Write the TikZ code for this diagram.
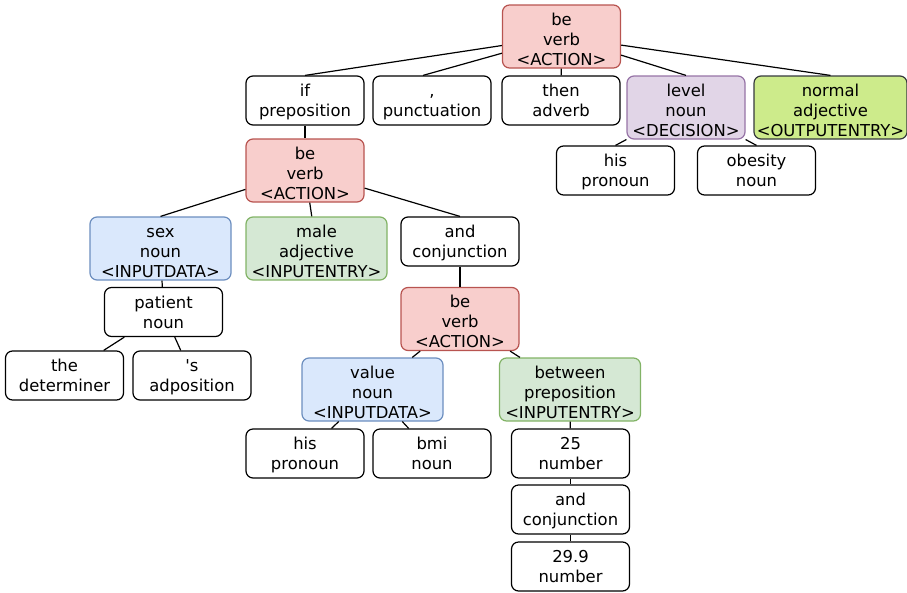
\documentclass[tikz,border=0pt]{standalone}
\usepackage{fontspec}
\setmainfont{DejaVu Sans}
\usepackage{tikz}
\usetikzlibrary{positioning}

\definecolor{actionfill}{HTML}{F8CECC}
\definecolor{actionline}{HTML}{B85450}
\definecolor{datafill}{HTML}{DAE8FC}
\definecolor{dataline}{HTML}{6C8EBF}
\definecolor{entryfill}{HTML}{D5E8D4}
\definecolor{entryline}{HTML}{82B366}
\definecolor{decfill}{HTML}{E1D5E7}
\definecolor{decline}{HTML}{9673A6}
\definecolor{outfill}{HTML}{CDEB8B}
\definecolor{outline}{HTML}{36393D}

% two and three line labels, with struts so all boxes sit alike
\newcommand{\wordtext}[2]{\rule{0pt}{16.5pt}#1\\#2\rule[-4pt]{0pt}{4pt}}
\newcommand{\tagtext}[3]{\rule{0pt}{19pt}#1\\#2\\#3\rule[-2pt]{0pt}{2pt}}

\tikzset{
  word/.style={draw=black, fill=white, rounded corners=7pt, line width=1.2pt,
    minimum width=118pt, minimum height=49pt, inner sep=0pt, align=center,
    font=\fontsize{16.4}{20}\selectfont},
  tagged/.style={word, minimum height=63pt},
  action/.style={tagged, fill=actionfill, draw=actionline},
  inputdata/.style={tagged, fill=datafill, draw=dataline, minimum width=141pt},
  inputentry/.style={tagged, fill=entryfill, draw=entryline, minimum width=141pt},
  decision/.style={tagged, fill=decfill, draw=decline},
  outputentry/.style={tagged, fill=outfill, draw=outline, minimum width=153pt},
  branch/.style={draw=black, line width=1.2pt}
}

\begin{document}
\begin{tikzpicture}[x=1pt,y=-1pt]
\useasboundingbox (0,0) rectangle (907,592);

% top level
\node[action] (root) at (561.5,36.5) {\tagtext{be}{verb}{<ACTION>}};
\node[word] (if) at (305,100.5) {\wordtext{if}{preposition}};
\node[word] (punct) at (432,100.5) {\wordtext{,}{punctuation}};
\node[word] (then) at (561,100.5) {\wordtext{then}{adverb}};
\node[decision] (level) at (686,107.5) {\tagtext{level}{noun}{<DECISION>}};
\node[outputentry] (normal) at (830.5,107.5) {\tagtext{normal}{adjective}{<OUTPUTENTRY>}};
\node[word] (hisA) at (615.5,170.5) {\wordtext{his}{pronoun}};
\node[word] (obesity) at (756.5,170.5) {\wordtext{obesity}{noun}};

% condition
\node[action] (beA) at (305,170.5) {\tagtext{be}{verb}{<ACTION>}};
\node[inputdata] (sex) at (160.5,248.5) {\tagtext{sex}{noun}{<INPUTDATA>}};
\node[inputentry] (male) at (316.5,248.5) {\tagtext{male}{adjective}{<INPUTENTRY>}};
\node[word] (andA) at (460,241.5) {\wordtext{and}{conjunction}};
\node[word] (patient) at (163.5,312) {\wordtext{patient}{noun}};
\node[word] (the) at (64.5,375.5) {\wordtext{the}{determiner}};
\node[word] (poss) at (192,375.5) {\wordtext{\textquotesingle s}{adposition}};

% second condition
\node[action] (beB) at (460,319) {\tagtext{be}{verb}{<ACTION>}};
\node[inputdata] (value) at (372.5,389.5) {\tagtext{value}{noun}{<INPUTDATA>}};
\node[inputentry] (between) at (570,389.5) {\tagtext{between}{preposition}{<INPUTENTRY>}};
\node[word] (hisB) at (305,453.5) {\wordtext{his}{pronoun}};
\node[word] (bmi) at (432,453.5) {\wordtext{bmi}{noun}};
\node[word] (low) at (570.5,453.5) {\wordtext{25}{number}};
\node[word] (andB) at (570.5,509.5) {\wordtext{and}{conjunction}};
\node[word] (high) at (570.5,566.5) {\wordtext{29.9}{number}};

% edges
\draw[branch] (root) -- (if.north);
\draw[branch] (root) -- ([xshift=-9pt]punct.north);
\draw[branch] (root) -- (then);
\draw[branch] (root) -- (level.north);
\draw[branch] (root) -- (normal.north);
\draw[branch] (level) -- (hisA.north);
\draw[branch] (level) -- (obesity.north);
\draw[branch] (if) -- (beA);
\draw[branch] (beA) -- (sex.north);
\draw[branch] (beA) -- (male);
\draw[branch] (beA) -- (andA.north);
\draw[branch] (sex) -- (patient);
\draw[branch] (patient) -- (the);
\draw[branch] (patient) -- (poss);
\draw[branch] (andA) -- (beB);
\draw[branch] (beB) -- (value);
\draw[branch] (beB) -- (between);
\draw[branch] (value) -- (hisB);
\draw[branch] (value) -- (bmi);
\draw[branch] (between) -- (low);
\draw[branch] (low) -- (andB);
\draw[branch] (andB) -- (high);
\end{tikzpicture}
\end{document}
